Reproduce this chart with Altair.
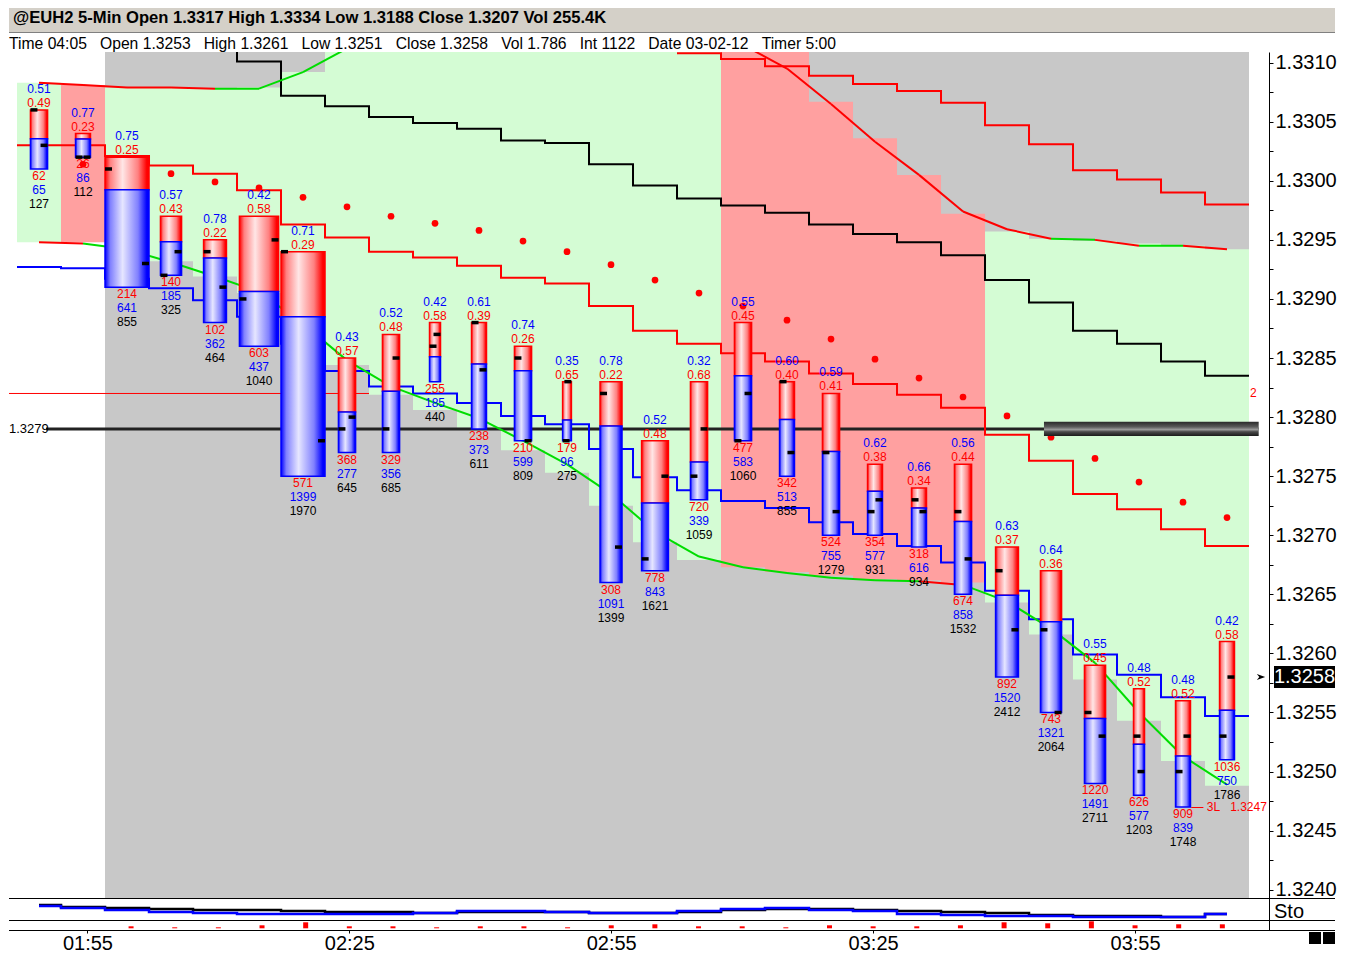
"""@EUH2 5-minute volume-split bars with bands, stops and a stochastic strip."""

import altair as alt
import pandas as pd

FONT = "Liberation Sans"

# ---- bars -------------------------------------------------------------
times = ["01:50", "01:55", "02:00", "02:05", "02:10", "02:15", "02:20",
         "02:25", "02:30", "02:35", "02:40", "02:45", "02:50", "02:55",
         "03:00", "03:05", "03:10", "03:15", "03:20", "03:25", "03:30",
         "03:35", "03:40", "03:45", "03:50", "03:55", "04:00", "04:05"]
opens = [1.3306, 1.3302, 1.3301, 1.3292, 1.3294, 1.3290, 1.3294, 1.3279,
         1.3279, 1.3286, 1.3288, 1.3285, 1.3278, 1.3282, 1.3268, 1.3275,
         1.3278, 1.3283, 1.3277, 1.3272, 1.3273, 1.3272, 1.3267, 1.3262,
         1.3255, 1.3253, 1.3250, 1.3253]
highs = [1.3306, 1.3304, 1.3302, 1.3297, 1.3295, 1.3297, 1.3294, 1.3285,
         1.3287, 1.3288, 1.3288, 1.3286, 1.3283, 1.3283, 1.3278, 1.3283,
         1.3288, 1.3283, 1.3282, 1.3276, 1.3274, 1.3276, 1.3269, 1.3267,
         1.3259, 1.3257, 1.3256, 1.3261]
lows = [1.3301, 1.3302, 1.3291, 1.3292, 1.3288, 1.3286, 1.3275, 1.3277,
        1.3277, 1.3283, 1.3279, 1.3278, 1.3278, 1.3266, 1.3267, 1.3273,
        1.3278, 1.3275, 1.3270, 1.3270, 1.3269, 1.3265, 1.3258, 1.3255,
        1.3249, 1.3248, 1.3247, 1.3251]
closes = [1.3303, 1.3302, 1.3293, 1.3294, 1.3291, 1.3295, 1.3278, 1.3280,
          1.3285, 1.3287, 1.3284, 1.3278, 1.3283, 1.3269, 1.3275, 1.3279,
          1.3282, 1.3277, 1.3272, 1.3273, 1.3272, 1.3268, 1.3262, 1.3255,
          1.3253, 1.3250, 1.3253, 1.3258]
dn_vol = [62, 26, 214, 140, 102, 603, 571, 368, 329, 255, 238, 210, 179, 308,
          778, 720, 477, 342, 524, 354, 318, 674, 892, 743, 1220, 626, 909,
          1036]
up_vol = [65, 86, 641, 185, 362, 437, 1399, 277, 356, 185, 373, 599, 96,
          1091, 843, 339, 583, 513, 755, 577, 616, 858, 1520, 1321, 1491, 577,
          839, 750]
# body width as a share of the 5-minute slot
body_frac = [0.39, 0.34, 1.0, 0.48, 0.52, 0.89, 1.0, 0.39, 0.39, 0.25, 0.34,
             0.39, 0.2, 0.5, 0.61, 0.39, 0.39, 0.34, 0.39, 0.34, 0.34, 0.39,
             0.52, 0.48, 0.48, 0.25, 0.34, 0.34]

# ---- background band ---------------------------------------------------
band_top = [1.33083, 1.33081, 1.33079, 1.33079, 1.33078, 1.33079, 1.33092,
            1.3312, 1.3312, 1.3312, 1.3312, 1.3312, 1.3312, 1.3312, 1.3312,
            1.3312, 1.3312, 1.3312, 1.33067, 1.33036, 1.33005, 1.32972,
            1.32957, 1.32951, 1.32949, 1.32947, 1.32945, 1.32942]
band_bot = [1.32948, 1.32948, 1.32942, 1.32932, 1.32919, 1.32905, 1.32875,
            1.32844, 1.32819, 1.32806, 1.32791, 1.32772, 1.32753, 1.32725,
            1.32694, 1.32679, 1.32673, 1.32669, 1.32666, 1.32663, 1.32662,
            1.32660, 1.32643, 1.32616, 1.32578, 1.32543, 1.32509, 1.32488]
band_state = ["rise", "fall"] + ["rise"] * 14 + ["fall"] * 6 + ["rise"] * 6

# ---- overlays ----------------------------------------------------------
sar = [None, 1.33014, None, 1.33006, 1.32999, 1.32994, 1.32986, 1.32978,
       1.32970, 1.32964, 1.32958, 1.32949, 1.32940, 1.32929, 1.32916,
       1.32905, 1.32894, 1.32882, 1.32866, 1.32849, 1.32833, 1.32817,
       1.32801, 1.32783, 1.32765, 1.32745, 1.32728, 1.32715]
blue_step = [1.32927, 1.32926, 1.32917, 1.32909, 1.32899, 1.32885, 1.32862,
             1.32839, 1.32826, 1.32820, 1.32812, 1.32801, 1.32794, 1.32773,
             1.32749, 1.32738, 1.32729, 1.32723, 1.32711, 1.32701, 1.32691,
             1.32677, 1.32653, 1.32629, 1.32599, 1.32582, 1.32563, 1.32547]
red_step = [1.33030, 1.33030, 1.33021, 1.33013, 1.33006, 1.32992, 1.32963,
            1.32952, 1.32940, 1.32935, 1.32928, 1.32918, 1.32913, 1.32894,
            1.32873, 1.32862, 1.32854, 1.32847, 1.32837, 1.32828, 1.32819,
            1.32808, 1.32785, 1.32763, 1.32735, 1.32722, 1.32705, 1.32691]
red_upper_step = [None, None, None, None, None, None, None, None, None, None,
                  None, None, None, None, None, 1.33108, 1.33103, 1.33097,
                  1.33089, 1.33082, 1.33076, 1.33066, 1.33047, 1.33031,
                  1.33009, 1.33001, 1.32990, 1.32980]
black_step = [None, None, None, None, 1.33119, 1.33101, 1.33072, 1.33063,
              1.33054, 1.33049, 1.33044, 1.33034, 1.33032, 1.33014, 1.32996,
              1.32985, 1.32979, 1.32973, 1.32963, 1.32955, 1.32948, 1.32937,
              1.32916, 1.32897, 1.32873, 1.32862, 1.32847, 1.32835]
fast_ma = [1.33083, 1.33081, 1.33079, 1.33079, 1.33078, 1.33078, 1.33092,
           1.33112, None, None, None, None, None, None, None, None,
           1.33115, 1.33095, 1.33065, 1.33033, 1.33005, 1.32974, 1.32959,
           1.32951, 1.32950, 1.32945, 1.32945, 1.32942]
fast_state = (["fall"] * 4 + ["rise"] * 3 + ["rise"] * 8 + ["fall"] * 8
              + ["rise", "fall", "rise", "fall"])
slow_ma = [1.32948, 1.32947, 1.32942, 1.32931, 1.32919, 1.32906, 1.32879,
           1.32848, 1.32826, 1.32812, 1.32799, 1.32780, 1.32760, 1.32735,
           1.32703, 1.32682, 1.32673, 1.32668, 1.32664, 1.32662, 1.32661,
           1.32658, 1.32644, 1.32621, 1.32592, 1.32550, 1.32513, 1.32489]
slow_state = ["fall"] + ["rise"] * 19 + ["fall"] + ["rise"] * 6

# ---- stochastic strip --------------------------------------------------
sto_k = [64, 55, 45, 36, 32, 27, 27, 27, 27, 32, 41, 41, 36, 32, 32, 41, 50,
         55, 45, 41, 27, 23, 18, 18, 14, 14, 14, 27]
sto_d = [68, 59, 55, 50, 45, 45, 41, 36, 36, 32, 36, 36, 36, 32, 32, 36, 45,
         50, 50, 45, 41, 36, 32, 23, 18, 18, 14, 27]
sto_hist = [0, 0, 2, 1, 1, 3, 6, 2, 2, 1, 2, 2, 1, 3, 4, 2, 2, 1, 3, 2, 2, 3,
            6, 5, 7, 3, 4, 4]

price_ticks = [1.3240, 1.3245, 1.3250, 1.3255, 1.3260, 1.3265, 1.3270,
               1.3275, 1.3280, 1.3285, 1.3290, 1.3295, 1.3300, 1.3305, 1.3310]
time_ticks = ["01:55", "02:25", "02:55", "03:25", "03:55"]

HEADER = ("@EUH2 5-Min Open 1.3317 High 1.3334 Low 1.3188 "
          "Close 1.3207 Vol 255.4K")
INFO = ["Time 04:05", "Open 1.3253", "High 1.3261", "Low 1.3251",
        "Close 1.3258", "Vol 1.786", "Int 1122", "Date 03-02-12",
        "Timer 5:00"]
LEVEL_BLACK = 1.3279
LEVEL_RED = 1.3282
LOW_MARK = "\u2014 3L\u00a0\u00a0\u00a01.3247"

# ---- styling -----------------------------------------------------------
W = 1260          # plot width
H = 846           # price panel height
RIGHT = 1326      # right edge of the whole figure
RED, BLUE, GREEN = "#ff0000", "#0000ff", "#00dd00"
GRAY, BAND_G, BAND_R = "#c8c8c8", "#d4fcd4", "#ffa0a0"


def grad(edge, light, mid):
    return {"gradient": "linear", "x1": 0, "y1": 0, "x2": 1, "y2": 0,
            "stops": [{"offset": 0, "color": edge},
                      {"offset": 0.12, "color": mid},
                      {"offset": 0.4, "color": light},
                      {"offset": 0.75, "color": mid},
                      {"offset": 0.95, "color": edge}]}


RED_GRAD = grad(RED, "#ffe6e6", "#ff8080")
BLUE_GRAD = grad(BLUE, "#e6e6ff", "#8080ff")
CYL_GRAD = {"gradient": "linear", "x1": 0, "y1": 0, "x2": 0, "y2": 1,
            "stops": [{"offset": 0, "color": "#2a2a2a"},
                      {"offset": 0.35, "color": "#5a5a5a"},
                      {"offset": 0.55, "color": "#9a9a9a"},
                      {"offset": 0.7, "color": "#4a4a4a"},
                      {"offset": 1, "color": "#1a1a1a"}]}


def to_min(s):
    h, m = s.split(":")
    return int(h) * 60 + int(m)


mins = [to_min(t) for t in times]
XS = alt.Scale(domain=[106.59, 106.59 + W / 8.8], nice=False, zero=False)
YS = alt.Scale(domain=[1.32393, 1.33109], nice=False, zero=False)
minor = [round(a + 0.00025, 5) for a in price_ticks[:-1]]
YAX = alt.Axis(orient="right", values=sorted(price_ticks + minor),
               labelExpr="abs(datum.value*2000 - round(datum.value*2000)) < 0.01"
                         " ? format(datum.value, '.4f') : ''",
               tickSize=4, tickColor="black", domainColor="black",
               labelFont=FONT, labelFontSize=20, labelColor="black",
               labelPadding=2, grid=False, title=None, labelFlush=False,
               labelOverlap=False, labelBound=False)


def X(f):
    return alt.X(f, type="quantitative", scale=XS, axis=None)


def Y(f):
    return alt.Y(f, type="quantitative", scale=YS, axis=YAX)


bars = pd.DataFrame({"m": mins, "open": opens, "high": highs, "low": lows,
                     "close": closes, "dn": dn_vol, "up": up_vol,
                     "frac": body_frac})
bars["total"] = bars.dn + bars.up
bars["dn_r"] = bars.dn / bars.total
bars["up_r"] = bars.up / bars.total
bars["split"] = bars.high - bars.dn_r * (bars.high - bars.low)
bars["x0"] = bars.m - bars.frac * 2.5
bars["x1"] = bars.m + bars.frac * 2.5
bars["ox"] = bars.x0 + 0.4
bars["cx"] = bars.x1 - 0.4

band = pd.DataFrame({"l": [m - 2.5 for m in mins], "r": [m + 2.5 for m in mins],
                     "top": band_top, "bot": band_bot, "state": band_state})


def step_frame(vals):
    rows = [{"x": m - 2.5, "y": v} for m, v in zip(mins, vals) if v is not None]
    rows.append({"x": mins[-1] + 2.5, "y": vals[-1]})
    return pd.DataFrame(rows)


def seg_frame(vals, states):
    return pd.DataFrame({"x": mins[:-1], "x2": mins[1:], "y": vals[:-1],
                         "y2": vals[1:], "s": states})


one = pd.DataFrame({"k": [0]})

session = alt.Chart(pd.DataFrame({"x": [mins[2] - 2.5], "x2": [mins[-1] + 2.5]})
                    ).mark_rect(color=GRAY).encode(
    x=X("x"), x2="x2", y=alt.value(0), y2=alt.value(H))


def band_part(state, color):
    return alt.Chart(band).transform_filter(
        alt.datum.state == state).mark_rect(color=color, clip=True).encode(
        x=X("l"), x2="r", y=Y("top"), y2="bot")


levels = pd.DataFrame({"x": [XS.domain[0], mins[0] + 0.8],
                       "x2": [mins[7] + 2.5, 248.6],
                       "y": [LEVEL_RED, LEVEL_BLACK]})
red_level = alt.Chart(levels.iloc[[0]]).mark_rule(color=RED, strokeWidth=1).encode(
    x=X("x"), x2="x2", y=Y("y"))
black_level = alt.Chart(levels.iloc[[1]]).mark_rule(
    color="#222222", strokeWidth=3).encode(x=X("x"), x2="x2", y=Y("y"))


def stepped(vals, color):
    return alt.Chart(step_frame(vals)).mark_line(
        interpolate="step-after", color=color, strokeWidth=2, clip=True
    ).encode(x=X("x"), y=Y("y"))


def curve(vals, states):
    seg = seg_frame(vals, states)
    return [alt.Chart(seg).transform_filter(alt.datum.s == s).mark_rule(
        strokeWidth=2, clip=True, color=c).encode(
        x=X("x"), x2="x2", y=Y("y"), y2="y2")
        for s, c in (("rise", GREEN), ("fall", RED))]


sar_df = pd.DataFrame({"m": mins, "y": sar}).dropna()
sar_layer = alt.Chart(sar_df).mark_circle(color=RED, size=45, opacity=1).encode(
    x=X("m"), y=Y("y"))

red_body = alt.Chart(bars).mark_rect(fill=RED_GRAD, stroke=RED,
                                     strokeWidth=1.5).encode(
    x=X("x0"), x2="x1", y=Y("high"), y2="split")
blue_body = alt.Chart(bars).mark_rect(fill=BLUE_GRAD, stroke=BLUE,
                                      strokeWidth=1.5).encode(
    x=X("x0"), x2="x1", y=Y("split"), y2="low")
open_tick = alt.Chart(bars).mark_tick(orient="horizontal", color="black",
                                      size=7, thickness=3.5, opacity=1).encode(
    x=X("ox"), y=Y("open"))
close_tick = alt.Chart(bars).mark_tick(orient="horizontal", color="black",
                                       size=7, thickness=3.5, opacity=1).encode(
    x=X("cx"), y=Y("close"))


def label(field, yfield, dy, color, fmt=None):
    txt = alt.Text(field, type="quantitative", format=fmt) if fmt else alt.Text(
        field, type="quantitative")
    return alt.Chart(bars).mark_text(font=FONT, fontSize=12, color=color,
                                     dy=dy, baseline="middle").encode(
        x=X("m"), y=Y(yfield), text=txt)


labels = [label("up_r", "high", -21, BLUE, ".2f"),
          label("dn_r", "high", -7, RED, ".2f"),
          label("dn", "low", 7, RED),
          label("up", "low", 21, BLUE),
          label("total", "low", 35, "black")]

level_txt = alt.Chart(levels.iloc[[1]]).mark_text(
    font=FONT, fontSize=13, align="left", baseline="middle", color="black"
).encode(x=alt.value(0), y=Y("y"), text=alt.value("1.3279"))
red_txt = alt.Chart(levels.iloc[[0]]).mark_text(
    font=FONT, fontSize=12, align="left", baseline="middle", color=RED
).encode(x=alt.value(1241), y=Y("y"), text=alt.value("2"))

cyl = alt.Chart(pd.DataFrame({"x": [224.2], "x2": [248.6],
                              "y": [LEVEL_BLACK + 0.00006],
                              "y2": [LEVEL_BLACK - 0.00006]})).mark_rect(
    fill=CYL_GRAD).encode(x=X("x"), x2="x2", y=Y("y"), y2="y2")

last = bars.iloc[[-1]].copy()
last["hi"] = last.close + 0.000093
last["lo"] = last.close - 0.000093
low_mark = alt.Chart(bars.iloc[[-2]]).mark_text(
    font=FONT, fontSize=12, align="left", baseline="middle", color=RED, dx=1
).encode(x=X("x1"), y=Y("low"), text=alt.value(LOW_MARK))
price_box = alt.Chart(last).mark_rect(color="black").encode(
    x=alt.value(W + 5), x2=alt.value(RIGHT), y=Y("hi"), y2="lo")
price_txt = alt.Chart(last).mark_text(
    font=FONT, fontSize=20, color="white", align="center", baseline="middle"
).encode(x=alt.value((W + 5 + RIGHT) / 2), y=Y("close"),
         text=alt.Text("close:Q", format=".4f"))
arrow = alt.Chart(last).mark_point(
    shape="M-1,-0.7L1,0L-1,0.7L-0.4,0Z", filled=True, color="black", size=70,
    opacity=1).encode(x=alt.value(W - 8), y=Y("close"))

main = alt.layer(
    session, band_part("rise", BAND_G), band_part("fall", BAND_R),
    red_level, black_level,
    stepped(black_step, "black"), stepped(red_upper_step, RED),
    stepped(red_step, RED), stepped(blue_step, BLUE),
    *curve(fast_ma, fast_state), *curve(slow_ma, slow_state),
    sar_layer, red_body, blue_body, open_tick, close_tick, *labels,
    level_txt, red_txt, cyl, low_mark, price_box, price_txt, arrow,
).properties(width=W, height=H)

# ---- header ------------------------------------------------------------
header = alt.layer(
    alt.Chart(one).mark_rect(color="#d4d0c8").encode(
        x=alt.value(0), x2=alt.value(RIGHT), y=alt.value(0), y2=alt.value(24)),
    alt.Chart(one).mark_rule(color="#808080").encode(
        x=alt.value(0), x2=alt.value(RIGHT), y=alt.value(24.5)),
    alt.Chart(one).mark_text(font=FONT, fontSize=16.6, fontWeight="bold",
                             align="left", baseline="middle", color="black"
                             ).encode(x=alt.value(4), y=alt.value(10),
                                      text=alt.value(HEADER)),
    alt.Chart(one).mark_text(font=FONT, fontSize=15.7, align="left",
                             baseline="middle", color="black"
                             ).encode(x=alt.value(0), y=alt.value(36),
                                      text=alt.value("\u00a0\u00a0\u00a0".join(INFO))),
).properties(width=W, height=44)

# ---- stochastic strip --------------------------------------------------
strip_axis = alt.Axis(orient="right", labels=False, ticks=False,
                      domainColor="black", grid=False, title=None)
sto_df = pd.DataFrame({"m": mins, "k": sto_k, "d": sto_d, "h": sto_hist})


def sep(y):
    return alt.Chart(one).mark_rule(color="black").encode(
        x=alt.value(0), x2=alt.value(RIGHT), y=alt.value(y))


sto = alt.layer(
    alt.Chart(sto_df).mark_line(interpolate="step", color="black",
                                strokeWidth=2.5).encode(
        x=X("m"), y=alt.Y("d:Q", scale=alt.Scale(domain=[0, 100]),
                          axis=strip_axis)),
    alt.Chart(sto_df).mark_line(interpolate="step", color=BLUE,
                                strokeWidth=2.5).encode(
        x=X("m"), y=alt.Y("k:Q", scale=alt.Scale(domain=[0, 100]),
                          axis=strip_axis)),
    sep(0.5), sep(22.5),
    alt.Chart(one).mark_text(font=FONT, fontSize=20, align="left",
                             baseline="middle", color="black").encode(
        x=alt.value(W + 5), y=alt.value(14), text=alt.value("Sto")),
).properties(width=W, height=22)

XAX = alt.Axis(values=[to_min(t) for t in time_ticks],
               labelExpr="(datum.value < 600 ? '0' : '') + floor(datum.value/60)"
                         " + ':' + (datum.value % 60 < 10 ? '0' : '')"
                         " + (datum.value % 60)",
               tickSize=3, tickColor="black", labelFont=FONT, labelFontSize=20,
               labelColor="black", labelPadding=0, domain=False, grid=False,
               title=None, labelFlush=False)

hist = alt.layer(
    alt.Chart(sto_df).mark_bar(color=RED, size=5).encode(
        x=alt.X("m:Q", scale=XS, axis=XAX),
        y=alt.Y("h:Q", scale=alt.Scale(domain=[-1.7, 8.3]), axis=strip_axis),
        y2=alt.datum(0)),
    sep(10.5),
    alt.Chart(one).mark_rect(color="black").encode(
        x=alt.value(RIGHT - 26), x2=alt.value(RIGHT - 14), y=alt.value(12),
        y2=alt.value(24)),
    alt.Chart(one).mark_rect(color="black").encode(
        x=alt.value(RIGHT - 12), x2=alt.value(RIGHT), y=alt.value(12),
        y2=alt.value(24)),
).properties(width=W, height=10)

chart = alt.vconcat(header, main, sto, hist, spacing=0, bounds="flush").properties(
    padding=0).configure_view(stroke=None)

chart.save("out.html", embed_options={"renderer": "svg", "actions": False})
